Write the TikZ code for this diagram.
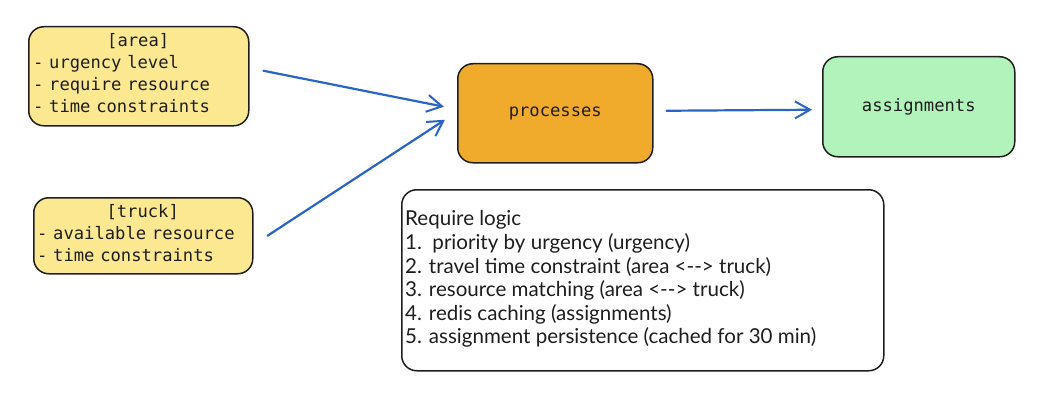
\documentclass[tikz,border=0pt]{standalone}
\usepackage{fontspec}
\usetikzlibrary{arrows.meta}
\newfontfamily\monofnt{DejaVu Sans Mono}
\newfontfamily\handfnt{Lato}
\definecolor{boxyellow}{HTML}{FCE891}
\definecolor{boxorange}{HTML}{F0AA2C}
\definecolor{boxgreen}{HTML}{B2F2BB}
\definecolor{arrowblue}{HTML}{2A64C4}
\definecolor{ink}{HTML}{1E1E1E}
\newlength\logicw
\newlength\monow
\tikzset{
  sketchbox/.style={draw=ink, line width=1.5pt, rounded corners=15pt, inner sep=0pt, anchor=north west},
  monotext/.style={font=\monofnt\fontsize{\monofs}{22}\selectfont, text=ink},
  flow/.style={draw=arrowblue, line width=2.2pt, line cap=round,
    -{Straight Barb[length=15pt, width=17pt, line width=2pt]}}
}
\begin{document}
\settowidth\logicw{\handfnt\fontsize{10}{12}\selectfont 5. assignment persistence (cached for 30 min)}%
\pgfmathsetmacro\logicfs{10*411/\logicw}%
\settowidth\monow{\monofnt\fontsize{10}{12}\selectfont - require resource}%
\pgfmathsetmacro\monofs{10*186/\monow}%
\begin{tikzpicture}[x=1pt, y=-1pt]
\useasboundingbox (0,0) rectangle (1047,404);
% boxes
\node[sketchbox, fill=boxyellow, minimum width=220pt, minimum height=99pt] (area) at (28,26) {};
\node[sketchbox, fill=boxyellow, minimum width=219pt, minimum height=76pt] (truck) at (33,197) {};
\node[sketchbox, fill=boxorange, minimum width=195pt, minimum height=99pt] (proc) at (457,63) {};
\node[sketchbox, fill=boxgreen, minimum width=192pt, minimum height=100pt] (assign) at (822,56) {};
\node[sketchbox, fill=white, minimum width=482pt, minimum height=181pt] (logic) at (401,189) {};
% texts
\node[monotext, anchor=west, align=left, text width=210pt, inner sep=0pt] (areatext) at (33,73.5)
  {\makebox[210pt]{[area]}\\- urgency level\\- require resource\\- time constraints};
\node[monotext, anchor=west, align=left, text width=211pt, inner sep=0pt] (trucktext) at (37,233.5)
  {\makebox[211pt]{[truck]}\\- available resource\\- time constraints};
\node[monotext, inner sep=0pt] (proctext) at (proc.center) {processes};
\node[monotext, inner sep=0pt] (assigntext) at (assign.center) {assignments};
\node[font=\handfnt\fontsize{\logicfs}{23.6}\selectfont, text=ink, anchor=north west, align=left, inner sep=0pt] (logictext) at (405,210.5)
  {Require logic\\1.\ \ priority by urgency (urgency)\\2. travel time constraint (area <{-}{-}> truck)\\3. resource matching (area <{-}{-}> truck)\\4. redis caching (assignments)\\5. assignment persistence (cached for 30 min)};
% connectors
\draw[flow] ([shift={(14,-5.5)}]area.east) -- ([shift={(-13,-6.5)}]proc.west);
\draw[flow] ([shift={(14,0)}]truck.east) -- ([shift={(-12,6.5)}]proc.west);
\draw[flow] ([shift={(13,-2.5)}]proc.east) -- ([shift={(-10,3)}]assign.west);
\end{tikzpicture}
\end{document}
